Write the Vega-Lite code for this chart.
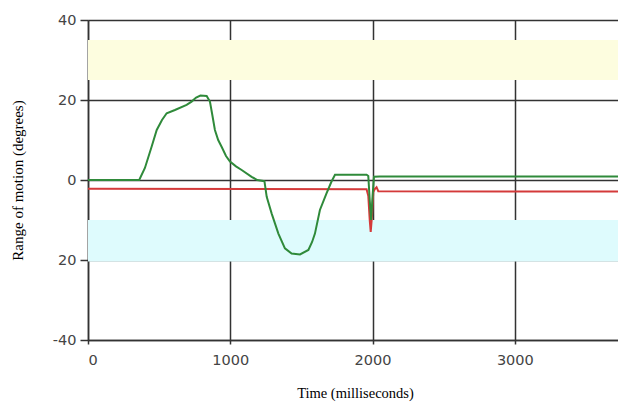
{
  "$schema": "https://vega.github.io/schema/vega-lite/v6.json",
  "width": 530,
  "height": 320,
  "autosize": "none",
  "padding": {"left": 88, "top": 20, "right": 0, "bottom": 63},
  "background": "white",
  "config": {
    "view": {"stroke": null},
    "axis": {
      "domainColor": "#333333",
      "domainWidth": 1.5,
      "gridColor": "#333333",
      "gridWidth": 1.5,
      "gridOpacity": 1,
      "tickColor": "#333333",
      "tickWidth": 1.5,
      "labelFont": "DejaVu Sans",
      "labelFontSize": 14.5,
      "labelColor": "#444444",
      "titleFont": "Liberation Serif",
      "titleFontSize": 14.5,
      "titleFontWeight": "normal",
      "titleColor": "#000000"
    }
  },
  "datasets": {
    "bands": [
      {"lo": 25, "hi": 35, "band": "upper"},
      {"lo": -20.4, "hi": -10, "band": "lower"}
    ],
    "green": [
      {"t": 0, "v": 0}, {"t": 360, "v": 0}, {"t": 400, "v": 3}, {"t": 447, "v": 8.3},
      {"t": 483, "v": 12.5}, {"t": 520, "v": 15}, {"t": 553, "v": 16.7}, {"t": 611, "v": 17.5},
      {"t": 693, "v": 18.8}, {"t": 728, "v": 19.6}, {"t": 760, "v": 20.6}, {"t": 790, "v": 21.1},
      {"t": 834, "v": 21}, {"t": 857, "v": 19.6}, {"t": 875, "v": 16}, {"t": 892, "v": 12.5},
      {"t": 915, "v": 10}, {"t": 939, "v": 8.3}, {"t": 970, "v": 6}, {"t": 998, "v": 4.6},
      {"t": 1040, "v": 3.4}, {"t": 1080, "v": 2.5}, {"t": 1150, "v": 0.8}, {"t": 1190, "v": 0},
      {"t": 1240, "v": -0.3}, {"t": 1256, "v": -4.2}, {"t": 1291, "v": -8.4}, {"t": 1338, "v": -13.4},
      {"t": 1384, "v": -17.1}, {"t": 1431, "v": -18.4}, {"t": 1490, "v": -18.6}, {"t": 1549, "v": -17.5},
      {"t": 1575, "v": -15.5}, {"t": 1595, "v": -13.4}, {"t": 1630, "v": -7.5}, {"t": 1677, "v": -3.3},
      {"t": 1710, "v": -0.5}, {"t": 1736, "v": 1.3}, {"t": 1958, "v": 1.3}, {"t": 1970, "v": 1.0},
      {"t": 1980, "v": -5}, {"t": 1990, "v": -10}, {"t": 2000, "v": -4}, {"t": 2010, "v": 0.8},
      {"t": 2050, "v": 0.9}, {"t": 3725, "v": 0.9}
    ],
    "red": [
      {"t": 0, "v": -2.2}, {"t": 1958, "v": -2.3}, {"t": 1970, "v": -4}, {"t": 1980, "v": -10},
      {"t": 1987, "v": -13}, {"t": 1996, "v": -9}, {"t": 2005, "v": -3}, {"t": 2017, "v": -2.2},
      {"t": 2028, "v": -1.8}, {"t": 2040, "v": -2.8}, {"t": 3725, "v": -2.9}
    ]
  },
  "layer": [
    {
      "data": {"name": "bands"},
      "mark": {"type": "rect"},
      "encoding": {
        "y": {"field": "lo", "type": "quantitative", "scale": {"domain": [-40, 40]},
          "axis": {"values": [-40, -20, 0, 20, 40], "tickSize": 8, "labelPadding": 4,
            "labelExpr": "datum.value == -20 ? '20' : (datum.value == -40 ? '-40' : datum.label)",
            "title": "Range of motion (degrees)", "titleAngle": -90, "titleX": -71, "titleY": 160,
            "titleAlign": "center", "titleBaseline": "middle", "titleFontSize": 15}},
        "y2": {"field": "hi"},
        "color": {"field": "band", "type": "nominal",
          "scale": {"domain": ["upper", "lower"], "range": ["#fdfddf", "#defbfd"]}, "legend": null}
      }
    },
    {
      "data": {"name": "red"},
      "mark": {"type": "line", "color": "#d43a3a", "strokeWidth": 2},
      "encoding": {
        "x": {"field": "t", "type": "quantitative", "scale": {"domain": [0, 3725], "nice": false},
          "axis": {"values": [0, 1000, 2000, 3000], "tickSize": 4, "labelPadding": 9, "format": "d",
            "title": "Time (milliseconds)", "titleX": 267, "titleY": 53, "titleBaseline": "middle", "titleAlign": "center"}},
        "y": {"field": "v", "type": "quantitative"}
      }
    },
    {
      "data": {"name": "green"},
      "mark": {"type": "line", "color": "#2f8a3a", "strokeWidth": 2},
      "encoding": {
        "x": {"field": "t", "type": "quantitative"},
        "y": {"field": "v", "type": "quantitative"}
      }
    }
  ]
}
